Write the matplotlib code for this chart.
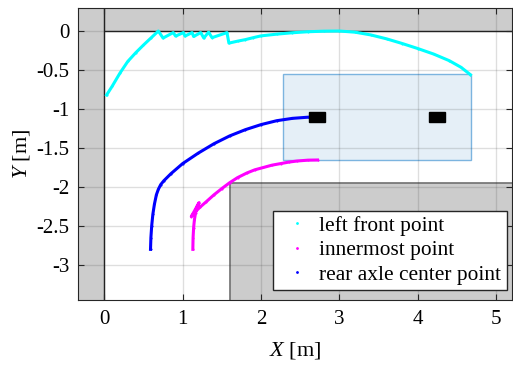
import numpy as np
import matplotlib
matplotlib.use("Agg")
import matplotlib.pyplot as plt
from matplotlib.patches import Rectangle

plt.rcParams['font.family'] = ['Liberation Serif', 'DejaVu Serif']
plt.rcParams['mathtext.fontset'] = 'custom'
plt.rcParams['mathtext.rm'] = 'Liberation Serif'
plt.rcParams['mathtext.it'] = 'Liberation Serif:italic'

# trajectories
front_x = [0.03, 0.1, 0.2, 0.3, 0.4, 0.5, 0.6, 0.69, 0.75, 0.88, 0.91, 1.01, 1.03,
           1.12, 1.14, 1.23, 1.27, 1.33, 1.375, 1.565, 1.59, 1.7, 1.8, 1.9, 2.0,
           2.2, 2.4, 2.6, 2.8, 3.0, 3.2, 3.4, 3.6, 3.8, 4.0, 4.2, 4.4, 4.55, 4.67]
front_y = [-0.82, -0.71, -0.54, -0.39, -0.28, -0.18, -0.085, 0.0, -0.09, -0.02, -0.065, -0.02, -0.065,
           -0.02, -0.07, -0.02, -0.09, -0.015, -0.085, -0.02, -0.155, -0.13, -0.11, -0.085, -0.062,
           -0.04, -0.022, -0.009, -0.002, 0.0, -0.015, -0.05, -0.10, -0.16, -0.225, -0.295, -0.38, -0.465, -0.56]

inner_x = [1.13, 1.133, 1.14, 1.15, 1.165, 1.18, 1.21, 1.11, 1.16, 1.22, 1.3, 1.4, 1.5, 1.6,
           1.7, 1.82, 1.92, 2.03, 2.14, 2.25, 2.36, 2.46, 2.6, 2.72]
inner_y = [-2.8, -2.65, -2.52, -2.42, -2.33, -2.26, -2.2, -2.38, -2.32, -2.26, -2.19, -2.1, -2.02, -1.945,
           -1.88, -1.82, -1.78, -1.75, -1.72, -1.70, -1.68, -1.667, -1.656, -1.654]

rear_x = [0.59, 0.595, 0.605, 0.62, 0.64, 0.665, 0.69, 0.72, 0.76, 0.85, 1.0, 1.2, 1.4, 1.6,
          1.8, 2.0, 2.2, 2.4, 2.6, 2.72]
rear_y = [-2.8, -2.65, -2.5, -2.35, -2.22, -2.1, -2.03, -1.97, -1.92, -1.83, -1.70, -1.565, -1.445, -1.345,
          -1.265, -1.20, -1.15, -1.12, -1.105, -1.10]

# vehicle body and wheels
body = (2.28, -1.65, 2.40, 1.10)
wheels = [(2.61, -1.17, 0.21, 0.13), (4.14, -1.17, 0.21, 0.13)]

fig = plt.figure(figsize=(5.13, 3.65), dpi=100)
ax = fig.add_axes([0.152, 0.178, 0.846, 0.800])

# obstacles
ax.add_patch(Rectangle((-1, 0), 7, 1, facecolor='#cccccc', edgecolor='#222222', lw=1, zorder=1))
ax.add_patch(Rectangle((-1, -5), 1, 6, facecolor='#cccccc', edgecolor='#222222', lw=1, zorder=1))
ax.add_patch(Rectangle((1.6, -5), 5, 3.05, facecolor='#cccccc', edgecolor='#707070', lw=1.2, zorder=1))

ax.add_patch(Rectangle(body[:2], body[2], body[3], facecolor='#dbe9f5', alpha=0.7,
                       edgecolor='#4a98d4', lw=1, zorder=1.2))
for w in wheels:
    ax.add_patch(Rectangle(w[:2], w[2], w[3], facecolor='black', edgecolor='black', zorder=3))

ax.plot(front_x, front_y, '.-', color='cyan', lw=2.2, ms=1, label='left front point', zorder=2.5)
ax.plot(inner_x, inner_y, '.-', color='magenta', lw=2.2, ms=1, label='innermost point', zorder=2.5)
ax.plot(rear_x, rear_y, '.-', color='blue', lw=2.2, ms=1, label='rear axle center point', zorder=2.5)

ax.set_xlim(-0.335, 5.2)
ax.set_ylim(-3.45, 0.295)
ax.set_xticks([0, 1, 2, 3, 4, 5])
ax.set_yticks([-3, -2.5, -2, -1.5, -1, -0.5, 0])
ax.set_yticklabels(['-3', '-2.5', '-2', '-1.5', '-1', '-0.5', '0'])
ax.set_axisbelow('line')
ax.grid(True, color='#262626', alpha=0.15, lw=1)
ax.tick_params(direction='in', top=True, right=True, labelsize=15, length=4, color='#262626')
ax.tick_params(axis='x', pad=7)
ax.tick_params(axis='y', pad=6)
for lbl in ax.get_xticklabels() + ax.get_yticklabels():
    lbl.set_fontfamily('Liberation Serif')
for s in ax.spines.values():
    s.set_color('#262626')
    s.set_zorder(4)

ax.set_xlabel('$X$ [m]', fontsize=16, labelpad=8)
ax.set_ylabel('$Y$ [m]', fontsize=16, labelpad=3)

leg = ax.legend(loc='lower right', bbox_to_anchor=(0.988, 0.034), fontsize=15.4, markerscale=2,
                handlelength=1.74, handletextpad=0.2, borderpad=0.25, labelspacing=0.21,
                borderaxespad=0, fancybox=False, framealpha=1, edgecolor='#262626')
for h in leg.legend_handles:
    h.set_linestyle('none')
leg.get_frame().set_linewidth(1)

fig.savefig('out.png', dpi=100)
